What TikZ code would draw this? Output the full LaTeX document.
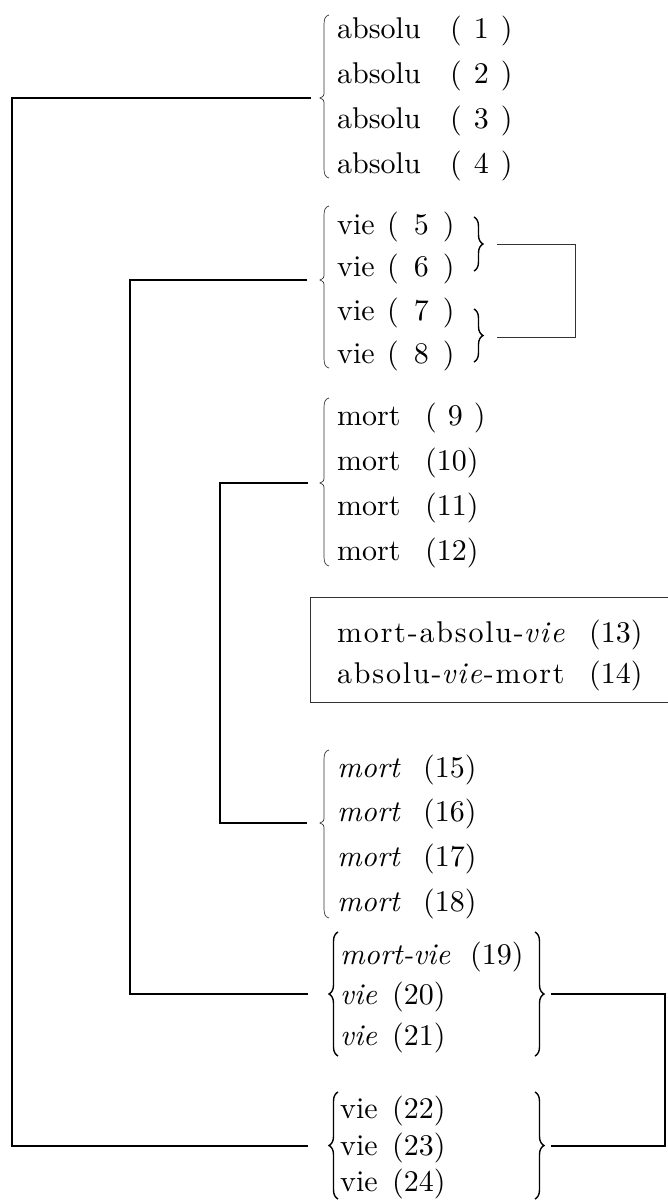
\documentclass[tikz,border=0pt]{standalone}
\usepackage{fontspec}
\setmainfont{lmroman10-regular.otf}[ItalicFont=lmroman10-italic.otf, BoldFont=lmroman10-bold.otf]
\usetikzlibrary{decorations.pathreplacing}
\newcommand\thinbrace[4]{%
  \draw[thinbr] ({#1+5},{#2}) .. controls ({#1+1},{#2+1}) and ({#1},{#2+4}) .. ({#1},{#2+10})
    -- ({#1},{#3-7}) .. controls ({#1},{#3-2}) .. ({#1-4},{#3})
    .. controls ({#1},{#3+2}) .. ({#1},{#3+7})
    -- ({#1},{#4-10}) .. controls ({#1},{#4-4}) and ({#1+1},{#4-1}) .. ({#1+5},{#4});}
\newcommand\fixw[2]{\makebox[#1pt][l]{#2}}
\begin{document}
\begin{tikzpicture}[x=1pt,y=-1pt,
  txt/.style={anchor=base west, inner sep=0pt, font=\fontsize{30}{36}\selectfont},
  conn/.style={line width=1.1pt},
  thinln/.style={line width=0.8pt, black!80},
  thinbr/.style={line width=0.7pt, black!80},
  bigbrace/.style={decorate, decoration={brace, amplitude=9pt}, line width=1.4pt},
  smallbrace/.style={decorate, decoration={brace, amplitude=9pt}, line width=1.4pt},
]
\useasboundingbox (0,0) rectangle (668,1200);
% group 1
\node[txt] (t1) at (337,38) {\fixw{113}{absolu}(\hspace{12pt}1\hspace{12pt})};
\node[txt] (t2) at (337,83) {\fixw{113}{absolu}(\hspace{12pt}2\hspace{12pt})};
\node[txt] (t3) at (337,128) {\fixw{113}{absolu}(\hspace{12pt}3\hspace{12pt})};
\node[txt] (t4) at (337,173) {\fixw{113}{absolu}(\hspace{12pt}4\hspace{12pt})};
\thinbrace{324}{15}{98}{178}
% group 2
\node[txt] (t5) at (337,234) {\fixw{50}{vie}(\hspace{15pt}5\hspace{14pt})};
\node[txt] (t6) at (337,276) {\fixw{50}{vie}(\hspace{15pt}6\hspace{14pt})};
\node[txt] (t7) at (337,320) {\fixw{50}{vie}(\hspace{15pt}7\hspace{14pt})};
\node[txt] (t8) at (337,363) {\fixw{50}{vie}(\hspace{15pt}8\hspace{14pt})};
\thinbrace{324}{206}{280}{368}
\draw[smallbrace] (474,217) -- (474,271);
\draw[smallbrace] (474,309) -- (474,362);
\coordinate (b56) at (497,244);
\coordinate (b78) at (497,337);
\draw[thinln] (b56) -- (575,244) -- (575,337) -- (b78);
% group 3
\node[txt] (t9) at (337,425) {\fixw{88}{mort}(\hspace{11pt}9\hspace{11pt})};
\node[txt] (t10) at (337,470) {\fixw{88}{mort}(10)};
\node[txt] (t11) at (337,515) {\fixw{88}{mort}(11)};
\node[txt] (t12) at (337,560) {\fixw{88}{mort}(12)};
\thinbrace{324}{398}{483}{566}
% box
\node[txt] (t13) at (337,642) {\fixw{252}{\addfontfeature{LetterSpace=6}mort-absolu-\textit{vie}}(13)};
\node[txt] (t14) at (337,683) {\fixw{252}{\addfontfeature{LetterSpace=6}absolu-\textit{vie}-mort}(14)};
\draw[thinln] (668,597) -- (310,597) -- (310,702) -- (668,702);
% group 4
\node[txt] (t15) at (337,777) {\fixw{86}{\textit{mort}}(15)};
\node[txt] (t16) at (337,821) {\fixw{86}{\textit{mort}}(16)};
\node[txt] (t17) at (337,866) {\fixw{86}{\textit{mort}}(17)};
\node[txt] (t18) at (337,911) {\fixw{86}{\textit{mort}}(18)};
\thinbrace{324}{750}{823}{918}
% group 5
\node[txt] (t19) at (340,964) {\fixw{130}{\textit{mort-vie}}(19)};
\node[txt] (t20) at (340,1004) {\fixw{52}{\textit{vie}}(20)};
\node[txt] (t21) at (340,1045) {\fixw{52}{\textit{vie}}(21)};
\draw[bigbrace] (338,1056) -- (338,932);
\draw[bigbrace] (535,932) -- (535,1056);
% group 6
\node[txt] (t22) at (340,1118) {\fixw{52}{vie}(22)};
\node[txt] (t23) at (340,1155) {\fixw{52}{vie}(23)};
\node[txt] (t24) at (340,1191) {\fixw{52}{vie}(24)};
\draw[bigbrace] (338,1199) -- (338,1092);
\draw[bigbrace] (535,1092) -- (535,1199);
% connector ends
\coordinate (c1) at (311,98);
\coordinate (c2) at (307,280);
\coordinate (c3) at (308,483);
\coordinate (c4) at (307,823);
\coordinate (c5) at (308,994);
\coordinate (c6) at (308,1146);
\coordinate (r5) at (551,994);
\coordinate (r6) at (551,1146);
\draw[conn] (c1) -- (12,98) -- (12,1146) -- (c6);
\draw[conn] (c2) -- (130,280) -- (130,994) -- (c5);
\draw[conn] (c3) -- (220,483) -- (220,823) -- (c4);
\draw[conn] (r5) -- (665,994) -- (665,1146) -- (r6);
\end{tikzpicture}
\end{document}
